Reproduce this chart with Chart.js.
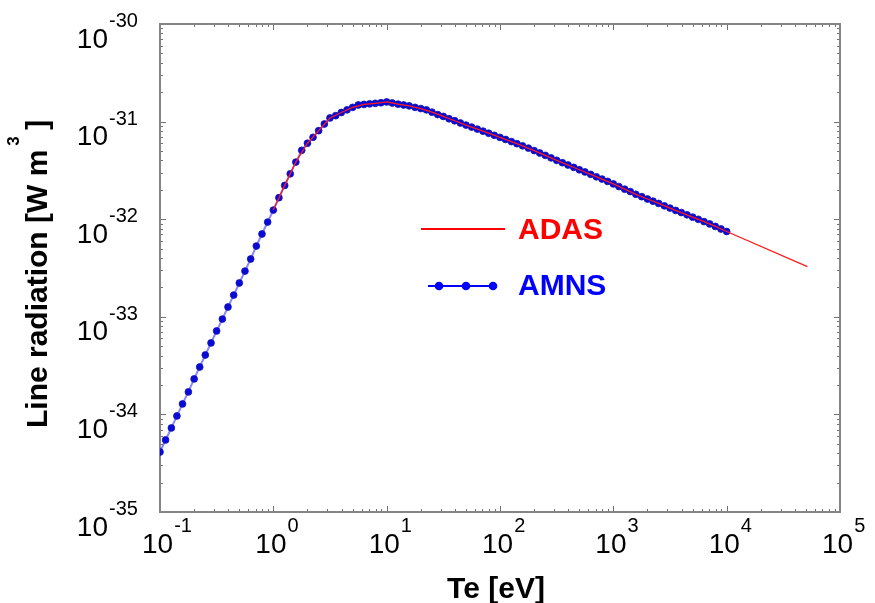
<!DOCTYPE html>
<html>
<head>
<meta charset="utf-8">
<script src="https://cdn.jsdelivr.net/npm/chart.js@4.4.1/dist/chart.umd.min.js"></script>
<style>
    html, body { margin: 0; padding: 0; background: #fff; }
    #wrap { width: 875px; height: 603px; }
</style>
</head>
<body>
<div id="wrap"><canvas id="grafica" width="875" height="603"></canvas></div>
<script>
// Te [eV] grid of the AMNS points
const teValues = [
    0.1, 0.112, 0.126, 0.141, 0.158, 0.178, 0.2, 0.224, 0.251, 0.282,
    0.316, 0.355, 0.398, 0.447, 0.501, 0.562, 0.631, 0.708, 0.794, 0.891,
    1, 1.12, 1.26, 1.41, 1.58, 1.78, 2.0, 2.24, 2.51, 2.82,
    3.16, 3.55, 3.98, 4.47, 5.01, 5.62, 6.31, 7.08, 7.94, 8.91,
    10, 11.2, 12.6, 14.1, 15.8, 17.8, 20.0, 22.4, 25.1, 28.2,
    31.6, 35.5, 39.8, 44.7, 50.1, 56.2, 63.1, 70.8, 79.4, 89.1,
    100, 112, 126, 141, 158, 178, 200, 224, 251, 282,
    316, 355, 398, 447, 501, 562, 631, 708, 794, 891,
    1000, 1120, 1260, 1410, 1580, 1780, 2000, 2240, 2510, 2820,
    3160, 3550, 3980, 4470, 5010, 5620, 6310, 7080, 7940, 8910,
    10000
];
// AMNS line radiation [W m3]
const amnsLz = [
    4.12e-35, 5.47e-35, 7.26e-35, 9.64e-35, 1.28e-34, 1.70e-34, 2.31e-34, 3.06e-34, 4.06e-34, 5.40e-34,
    7.16e-34, 9.48e-34, 1.26e-33, 1.67e-33, 2.22e-33, 2.94e-33, 3.91e-33, 5.31e-33, 7.05e-33, 9.35e-33,
    1.24e-32, 1.66e-32, 2.22e-32, 2.92e-32, 3.85e-32, 5.08e-32, 6.00e-32, 6.90e-32, 8.07e-32, 9.45e-32,
    1.09e-31, 1.15e-31, 1.24e-31, 1.32e-31, 1.40e-31, 1.48e-31, 1.50e-31, 1.52e-31, 1.54e-31, 1.56e-31,
    1.59e-31, 1.55e-31, 1.51e-31, 1.48e-31, 1.45e-31, 1.40e-31, 1.36e-31, 1.32e-31, 1.25e-31, 1.18e-31,
    1.13e-31, 1.07e-31, 1.02e-31, 9.68e-32, 9.21e-32, 8.79e-32, 8.38e-32, 7.98e-32, 7.60e-32, 7.24e-32,
    6.89e-32, 6.56e-32, 6.24e-32, 5.94e-32, 5.65e-32, 5.35e-32, 5.05e-32, 4.77e-32, 4.51e-32, 4.25e-32,
    4.01e-32, 3.79e-32, 3.59e-32, 3.40e-32, 3.21e-32, 3.05e-32, 2.88e-32, 2.72e-32, 2.58e-32, 2.44e-32,
    2.30e-32, 2.16e-32, 2.03e-32, 1.92e-32, 1.80e-32, 1.70e-32, 1.61e-32, 1.53e-32, 1.45e-32, 1.37e-32,
    1.30e-32, 1.23e-32, 1.17e-32, 1.11e-32, 1.05e-32, 9.98e-33, 9.45e-33, 8.95e-33, 8.43e-33, 7.94e-33,
    7.48e-33
];
// ADAS curve
const adasTe = [
    1, 1.26, 1.58, 2, 2.51, 3.16, 3.98, 5.01, 6.31, 7.94,
    10, 12.6, 15.8, 20, 25.1, 31.6, 39.8, 50.1, 63.1, 79.4,
    100, 126, 158, 200, 251, 316, 398, 501, 631, 794,
    1000, 1260, 1580, 2000, 2510, 3160, 3980, 5010, 6310, 7940,
    10000, 51600
];
const adasLz = [
    1.24e-32, 2.22e-32, 3.85e-32, 6.00e-32, 8.07e-32, 1.09e-31, 1.24e-31, 1.40e-31, 1.50e-31, 1.54e-31,
    1.59e-31, 1.51e-31, 1.45e-31, 1.36e-31, 1.25e-31, 1.13e-31, 1.02e-31, 9.21e-32, 8.38e-32, 7.60e-32,
    6.89e-32, 6.24e-32, 5.65e-32, 5.05e-32, 4.51e-32, 4.01e-32, 3.59e-32, 3.21e-32, 2.88e-32, 2.58e-32,
    2.30e-32, 2.03e-32, 1.80e-32, 1.61e-32, 1.45e-32, 1.30e-32, 1.17e-32, 1.05e-32, 9.45e-33, 8.43e-33,
    7.48e-33, 3.26e-33
];
// tick label exponents
const xTickExp = [-1, 0, 1, 2, 3, 4, 5];
const yTickExp = [-35, -34, -33, -32, -31, -30];

const FONT = '"Liberation Sans", Arial, sans-serif';

// log ticks pointing inward on all four sides
function drawTicks(ctx, scale, horizontal, area) {
    const lo = Math.floor(Math.log10(scale.min));
    const hi = Math.ceil(Math.log10(scale.max));
    ctx.strokeStyle = '#707070';
    ctx.lineWidth = 1;
    for (let d = lo; d <= hi; d++) {
        for (let m = 1; m <= 9; m++) {
            const v = m * Math.pow(10, d);
            if (v < scale.min * 0.999 || v > scale.max * 1.001) continue;
            const p = Math.round(scale.getPixelForValue(v)) + 0.5;
            const len = m === 1 ? 6 : 3;
            ctx.beginPath();
            if (horizontal) {
                ctx.moveTo(p, area.bottom); ctx.lineTo(p, area.bottom - len);
                ctx.moveTo(p, area.top); ctx.lineTo(p, area.top + len);
            } else {
                ctx.moveTo(area.left, p); ctx.lineTo(area.left + len, p);
                ctx.moveTo(area.right, p); ctx.lineTo(area.right - len, p);
            }
            ctx.stroke();
        }
    }
}

function drawPow(ctx, x, base, exp, supBase) {
    ctx.font = '28px ' + FONT;
    ctx.fillText('10', x, base);
    const w = ctx.measureText('10').width;
    ctx.font = '20px ' + FONT;
    ctx.fillText(String(exp), x + w + 1, supBase);
}

const decor = {
    id: 'decor',
    beforeDatasetsDraw(chart) {
        const ctx = chart.ctx;
        const a = chart.chartArea;
        ctx.save();
        drawTicks(ctx, chart.scales.x, true, a);
        drawTicks(ctx, chart.scales.y, false, a);
        ctx.strokeStyle = '#858585';
        ctx.lineWidth = 2;
        ctx.strokeRect(a.left, a.top, a.right - a.left, a.bottom - a.top);
        ctx.restore();
    },
    afterDraw(chart) {
        const ctx = chart.ctx;
        const xs = chart.scales.x, ys = chart.scales.y;
        ctx.save();
        ctx.fillStyle = '#000';
        ctx.textAlign = 'left';
        ctx.textBaseline = 'alphabetic';

        xTickExp.forEach(e => {
            const px = xs.getPixelForValue(Math.pow(10, e));
            drawPow(ctx, px - 18, 553, e, 532);
        });
        yTickExp.forEach(e => {
            const py = ys.getPixelForValue(Math.pow(10, e));
            ctx.font = '28px ' + FONT;
            const w = ctx.measureText('10').width;
            drawPow(ctx, 108 - w, py + 23.5, e, py + 3);
        });

        // axis titles
        ctx.font = 'bold 30px ' + FONT;
        ctx.textAlign = 'center';
        ctx.fillText('Te [eV]', 496, 598);

        ctx.save();
        ctx.translate(47, 428);
        ctx.rotate(-Math.PI / 2);
        ctx.textAlign = 'left';
        ctx.font = 'bold 30px ' + FONT;
        const t = 'Line radiation [W m';
        ctx.fillText(t, 0, 0);
        const tw = ctx.measureText(t).width;
        ctx.font = 'bold 17px ' + FONT;
        ctx.fillText('3', tw + 4, -28);
        ctx.font = 'bold 30px ' + FONT;
        ctx.fillText(']', tw + 20, 0);
        ctx.restore();

        // legend
        ctx.textAlign = 'left';
        ctx.strokeStyle = '#ff0000';
        ctx.lineWidth = 2;
        ctx.beginPath(); ctx.moveTo(421, 229); ctx.lineTo(505, 229); ctx.stroke();
        ctx.fillStyle = '#ff0000';
        ctx.font = 'bold 30px ' + FONT;
        ctx.fillText('ADAS', 518, 239);

        ctx.strokeStyle = '#0000ff';
        ctx.beginPath(); ctx.moveTo(428, 286); ctx.lineTo(497, 286); ctx.stroke();
        ctx.fillStyle = '#0000ff';
        [439, 466, 493].forEach(cx => {
            ctx.beginPath(); ctx.arc(cx, 286, 4.3, 0, Math.PI * 2); ctx.fill();
        });
        ctx.fillText('AMNS', 518, 295);
        ctx.restore();
    }
};

document.addEventListener('DOMContentLoaded', function () {
    const ctx = document.getElementById('grafica').getContext('2d');
    new Chart(ctx, {
        type: 'line',
        data: {
            datasets: [
                {
                    label: 'ADAS',
                    data: adasTe.map((t, i) => ({ x: t, y: adasLz[i] })),
                    borderColor: '#ff1a1a',
                    borderWidth: 1.3,
                    pointRadius: 0,
                    fill: false
                },
                {
                    label: 'AMNS',
                    data: teValues.map((t, i) => ({ x: t, y: amnsLz[i] })),
                    borderColor: 'rgba(70, 70, 255, 0.65)',
                    borderWidth: 2,
                    pointRadius: 3.4,
                    pointBorderWidth: 1,
                    pointBackgroundColor: '#0a0ad8',
                    pointBorderColor: 'rgba(20, 20, 180, 0.8)',
                    fill: false
                }
            ]
        },
        options: {
            responsive: false,
            animation: false,
            layout: { padding: { left: 160, right: 35, top: 24, bottom: 91 } },
            plugins: { legend: { display: false }, tooltip: { enabled: false } },
            scales: {
                x: { type: 'logarithmic', min: 0.1, max: 1e5, display: false },
                y: { type: 'logarithmic', min: 1e-35, max: 1e-30, display: false }
            }
        },
        plugins: [decor]
    });
});
</script>
</body>
</html>
